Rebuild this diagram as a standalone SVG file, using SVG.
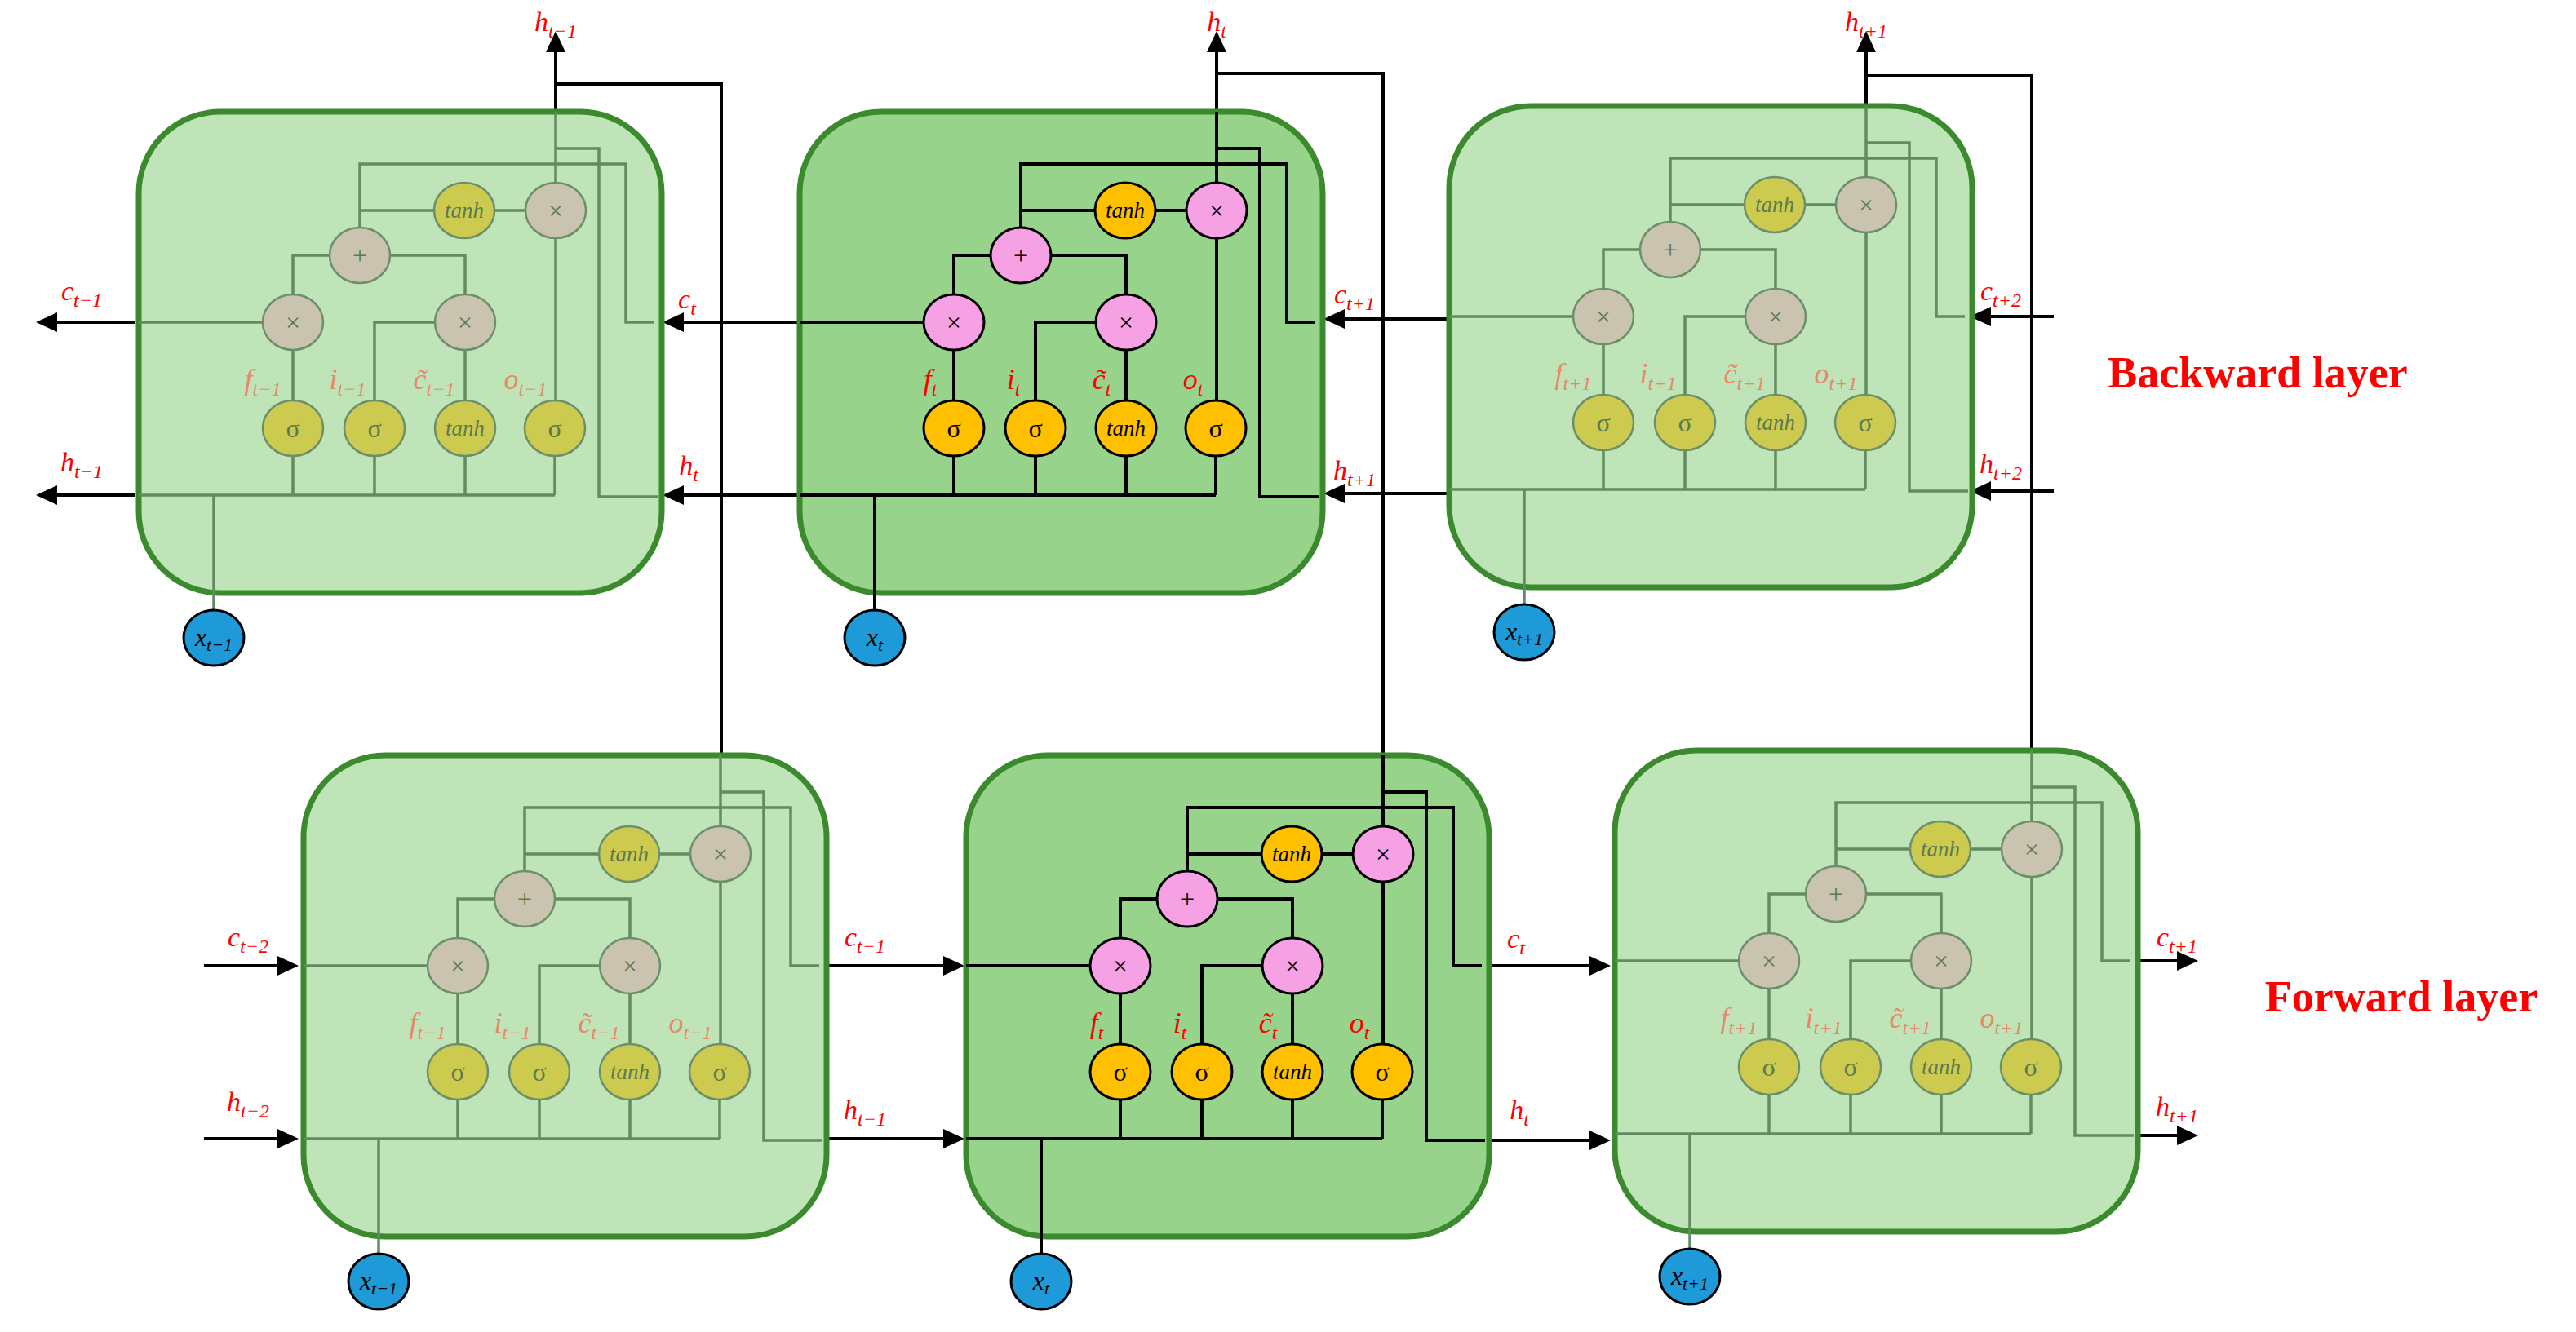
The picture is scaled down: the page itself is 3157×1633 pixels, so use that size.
<svg xmlns="http://www.w3.org/2000/svg" width="3157" height="1633" viewBox="0 0 3157 1633">
<style>
.box{stroke:#3b8b2e;stroke-width:7}
.a .box{fill:#98d38b}.f .box{fill:#bfe4b7}
.ln{fill:none;stroke-width:4}
.a .ln{stroke:#000}.f .ln{stroke:#618c61;stroke-width:3.5}
.a .op{fill:#f7a1e5;stroke:#000;stroke-width:3}.f .op{fill:#c9c3b0;stroke:#6b8e6b;stroke-width:2.5}
.a .gt{fill:#ffc000;stroke:#000;stroke-width:3}.f .gt{fill:#cccb4f;stroke:#6b8e6b;stroke-width:2.5}
.xn{fill:#1f9ad8;stroke:#000;stroke-width:3}
.sy{font-family:"Liberation Serif",serif;font-size:32px;text-anchor:middle;dominant-baseline:central}
.th{font-family:"Liberation Serif",serif;font-style:italic;font-size:27px;text-anchor:middle;dominant-baseline:central}
.a .sy,.a .th{fill:#000}.f .sy,.f .th{fill:#5c7a50}
.lb{font-family:"Liberation Serif",serif;font-style:italic;font-size:36px;text-anchor:middle}
.a .lb{fill:#ff0000}.f .lb{fill:#e9876b}
.xl{font-family:"Liberation Serif",serif;font-style:italic;font-size:32px;text-anchor:middle;fill:#000}
.ol{font-family:"Liberation Serif",serif;font-style:italic;font-size:34px;text-anchor:middle;fill:#ff0000}
.cn{fill:none;stroke:#000;stroke-width:4}
.ttl{font-family:"Liberation Serif",serif;font-weight:bold;font-size:54px;fill:#ff0000;text-anchor:middle}
</style>
<defs>
<marker id="ar" markerUnits="userSpaceOnUse" markerWidth="26" markerHeight="24" refX="22" refY="12" orient="auto"><path d="M0,0 L26,12 L0,24 z" fill="#000"/></marker>
</defs>

<g id="connectors">
<path class="cn" d="M681,137 V42" marker-end="url(#ar)"/>
<path class="cn" d="M681,103 H884 V926"/>
<path class="cn" d="M1491,137 V42" marker-end="url(#ar)"/>
<path class="cn" d="M1491,90 H1695 V926"/>
<path class="cn" d="M2287,130 V42" marker-end="url(#ar)"/>
<path class="cn" d="M2287,93 H2490 V920"/>
<path class="cn" d="M165,395 H48" marker-end="url(#ar)"/>
<path class="cn" d="M165,607 H48" marker-end="url(#ar)"/>
<path class="cn" d="M980,395 H816" marker-end="url(#ar)"/>
<path class="cn" d="M980,607 H816" marker-end="url(#ar)"/>
<path class="cn" d="M1776,391 H1626" marker-end="url(#ar)"/>
<path class="cn" d="M1776,605 H1626" marker-end="url(#ar)"/>
<path class="cn" d="M2517,388 H2418" marker-end="url(#ar)"/>
<path class="cn" d="M2517,602 H2418" marker-end="url(#ar)"/>
<path class="cn" d="M250,1184 H362" marker-end="url(#ar)"/>
<path class="cn" d="M250,1396 H362" marker-end="url(#ar)"/>
<path class="cn" d="M1013,1184 H1178" marker-end="url(#ar)"/>
<path class="cn" d="M1013,1396 H1178" marker-end="url(#ar)"/>
<path class="cn" d="M1822,1184 H1970" marker-end="url(#ar)"/>
<path class="cn" d="M1822,1398 H1970" marker-end="url(#ar)"/>
<path class="cn" d="M2618,1178 H2690" marker-end="url(#ar)"/>
<path class="cn" d="M2618,1392 H2690" marker-end="url(#ar)"/>
</g>

<g id="cell-bwd-tm1" class="f" transform="translate(170,137)">
<rect class="box" x="0" y="0" width="641" height="590" rx="100"/>
<path class="ln" d="M0,258H189 M189,388V176H400V388 M289,388V258H400 M271,176V64H597V258H632 M271,121H511 M511,0V388 M511,45H564V472H636 M0,470H510 M189,388V470 M289,388V470 M400,388V470 M510,388V470 M92,470V611"/>
<ellipse class="op" cx="189" cy="258" rx="37" ry="34"/><text class="sy" x="189" y="258">×</text>
<ellipse class="op" cx="400" cy="258" rx="37" ry="34"/><text class="sy" x="400" y="258">×</text>
<ellipse class="op" cx="271" cy="176" rx="37" ry="34"/><text class="sy" x="271" y="176">+</text>
<ellipse class="gt" cx="399" cy="121" rx="37" ry="34"/><text class="th" x="399" y="121">tanh</text>
<ellipse class="op" cx="511" cy="121" rx="37" ry="34"/><text class="sy" x="511" y="121">×</text>
<ellipse class="gt" cx="189" cy="388" rx="37" ry="34"/><text class="sy" x="189" y="388">σ</text>
<ellipse class="gt" cx="289" cy="388" rx="37" ry="34"/><text class="sy" x="289" y="388">σ</text>
<ellipse class="gt" cx="400" cy="388" rx="37" ry="34"/><text class="th" x="400" y="388">tanh</text>
<ellipse class="gt" cx="510" cy="388" rx="37" ry="34"/><text class="sy" x="510" y="388">σ</text>
<text class="lb" x="152" y="340">f<tspan font-size="24" dy="8">t−1</tspan></text>
<text class="lb" x="256" y="340">i<tspan font-size="24" dy="8">t−1</tspan></text>
<text class="lb" x="362" y="340">c̃<tspan font-size="24" dy="8">t−1</tspan></text>
<text class="lb" x="474" y="340">o<tspan font-size="24" dy="8">t−1</tspan></text>
<ellipse class="xn" cx="92" cy="645" rx="37" ry="34"/><text class="xl" x="92" y="655">x<tspan font-size="22" dy="6">t−1</tspan></text>
</g>

<g id="cell-bwd-t" class="a" transform="translate(980,137)">
<rect class="box" x="0" y="0" width="641" height="590" rx="100"/>
<path class="ln" d="M0,258H189 M189,388V176H400V388 M289,388V258H400 M271,176V64H597V258H632 M271,121H511 M511,0V388 M511,45H564V472H636 M0,470H510 M189,388V470 M289,388V470 M400,388V470 M510,388V470 M92,470V611"/>
<ellipse class="op" cx="189" cy="258" rx="37" ry="34"/><text class="sy" x="189" y="258">×</text>
<ellipse class="op" cx="400" cy="258" rx="37" ry="34"/><text class="sy" x="400" y="258">×</text>
<ellipse class="op" cx="271" cy="176" rx="37" ry="34"/><text class="sy" x="271" y="176">+</text>
<ellipse class="gt" cx="399" cy="121" rx="37" ry="34"/><text class="th" x="399" y="121">tanh</text>
<ellipse class="op" cx="511" cy="121" rx="37" ry="34"/><text class="sy" x="511" y="121">×</text>
<ellipse class="gt" cx="189" cy="388" rx="37" ry="34"/><text class="sy" x="189" y="388">σ</text>
<ellipse class="gt" cx="289" cy="388" rx="37" ry="34"/><text class="sy" x="289" y="388">σ</text>
<ellipse class="gt" cx="400" cy="388" rx="37" ry="34"/><text class="th" x="400" y="388">tanh</text>
<ellipse class="gt" cx="510" cy="388" rx="37" ry="34"/><text class="sy" x="510" y="388">σ</text>
<text class="lb" x="160" y="340">f<tspan font-size="24" dy="8">t</tspan></text>
<text class="lb" x="262" y="340">i<tspan font-size="24" dy="8">t</tspan></text>
<text class="lb" x="370" y="340">c̃<tspan font-size="24" dy="8">t</tspan></text>
<text class="lb" x="482" y="340">o<tspan font-size="24" dy="8">t</tspan></text>
<ellipse class="xn" cx="92" cy="645" rx="37" ry="34"/><text class="xl" x="92" y="655">x<tspan font-size="22" dy="6">t</tspan></text>
</g>

<g id="cell-bwd-tp1" class="f" transform="translate(1776,130)">
<rect class="box" x="0" y="0" width="641" height="590" rx="100"/>
<path class="ln" d="M0,258H189 M189,388V176H400V388 M289,388V258H400 M271,176V64H597V258H632 M271,121H511 M511,0V388 M511,45H564V472H636 M0,470H510 M189,388V470 M289,388V470 M400,388V470 M510,388V470 M92,470V611"/>
<ellipse class="op" cx="189" cy="258" rx="37" ry="34"/><text class="sy" x="189" y="258">×</text>
<ellipse class="op" cx="400" cy="258" rx="37" ry="34"/><text class="sy" x="400" y="258">×</text>
<ellipse class="op" cx="271" cy="176" rx="37" ry="34"/><text class="sy" x="271" y="176">+</text>
<ellipse class="gt" cx="399" cy="121" rx="37" ry="34"/><text class="th" x="399" y="121">tanh</text>
<ellipse class="op" cx="511" cy="121" rx="37" ry="34"/><text class="sy" x="511" y="121">×</text>
<ellipse class="gt" cx="189" cy="388" rx="37" ry="34"/><text class="sy" x="189" y="388">σ</text>
<ellipse class="gt" cx="289" cy="388" rx="37" ry="34"/><text class="sy" x="289" y="388">σ</text>
<ellipse class="gt" cx="400" cy="388" rx="37" ry="34"/><text class="th" x="400" y="388">tanh</text>
<ellipse class="gt" cx="510" cy="388" rx="37" ry="34"/><text class="sy" x="510" y="388">σ</text>
<text class="lb" x="152" y="340">f<tspan font-size="24" dy="8">t+1</tspan></text>
<text class="lb" x="256" y="340">i<tspan font-size="24" dy="8">t+1</tspan></text>
<text class="lb" x="362" y="340">c̃<tspan font-size="24" dy="8">t+1</tspan></text>
<text class="lb" x="474" y="340">o<tspan font-size="24" dy="8">t+1</tspan></text>
<ellipse class="xn" cx="92" cy="645" rx="37" ry="34"/><text class="xl" x="92" y="655">x<tspan font-size="22" dy="6">t+1</tspan></text>
</g>

<g id="cell-fwd-tm1" class="f" transform="translate(372,926)">
<rect class="box" x="0" y="0" width="641" height="590" rx="100"/>
<path class="ln" d="M0,258H189 M189,388V176H400V388 M289,388V258H400 M271,176V64H597V258H632 M271,121H511 M511,0V388 M511,45H564V472H636 M0,470H510 M189,388V470 M289,388V470 M400,388V470 M510,388V470 M92,470V611"/>
<ellipse class="op" cx="189" cy="258" rx="37" ry="34"/><text class="sy" x="189" y="258">×</text>
<ellipse class="op" cx="400" cy="258" rx="37" ry="34"/><text class="sy" x="400" y="258">×</text>
<ellipse class="op" cx="271" cy="176" rx="37" ry="34"/><text class="sy" x="271" y="176">+</text>
<ellipse class="gt" cx="399" cy="121" rx="37" ry="34"/><text class="th" x="399" y="121">tanh</text>
<ellipse class="op" cx="511" cy="121" rx="37" ry="34"/><text class="sy" x="511" y="121">×</text>
<ellipse class="gt" cx="189" cy="388" rx="37" ry="34"/><text class="sy" x="189" y="388">σ</text>
<ellipse class="gt" cx="289" cy="388" rx="37" ry="34"/><text class="sy" x="289" y="388">σ</text>
<ellipse class="gt" cx="400" cy="388" rx="37" ry="34"/><text class="th" x="400" y="388">tanh</text>
<ellipse class="gt" cx="510" cy="388" rx="37" ry="34"/><text class="sy" x="510" y="388">σ</text>
<text class="lb" x="152" y="340">f<tspan font-size="24" dy="8">t−1</tspan></text>
<text class="lb" x="256" y="340">i<tspan font-size="24" dy="8">t−1</tspan></text>
<text class="lb" x="362" y="340">c̃<tspan font-size="24" dy="8">t−1</tspan></text>
<text class="lb" x="474" y="340">o<tspan font-size="24" dy="8">t−1</tspan></text>
<ellipse class="xn" cx="92" cy="645" rx="37" ry="34"/><text class="xl" x="92" y="655">x<tspan font-size="22" dy="6">t−1</tspan></text>
</g>

<g id="cell-fwd-t" class="a" transform="translate(1184,926)">
<rect class="box" x="0" y="0" width="641" height="590" rx="100"/>
<path class="ln" d="M0,258H189 M189,388V176H400V388 M289,388V258H400 M271,176V64H597V258H632 M271,121H511 M511,0V388 M511,45H564V472H636 M0,470H510 M189,388V470 M289,388V470 M400,388V470 M510,388V470 M92,470V611"/>
<ellipse class="op" cx="189" cy="258" rx="37" ry="34"/><text class="sy" x="189" y="258">×</text>
<ellipse class="op" cx="400" cy="258" rx="37" ry="34"/><text class="sy" x="400" y="258">×</text>
<ellipse class="op" cx="271" cy="176" rx="37" ry="34"/><text class="sy" x="271" y="176">+</text>
<ellipse class="gt" cx="399" cy="121" rx="37" ry="34"/><text class="th" x="399" y="121">tanh</text>
<ellipse class="op" cx="511" cy="121" rx="37" ry="34"/><text class="sy" x="511" y="121">×</text>
<ellipse class="gt" cx="189" cy="388" rx="37" ry="34"/><text class="sy" x="189" y="388">σ</text>
<ellipse class="gt" cx="289" cy="388" rx="37" ry="34"/><text class="sy" x="289" y="388">σ</text>
<ellipse class="gt" cx="400" cy="388" rx="37" ry="34"/><text class="th" x="400" y="388">tanh</text>
<ellipse class="gt" cx="510" cy="388" rx="37" ry="34"/><text class="sy" x="510" y="388">σ</text>
<text class="lb" x="160" y="340">f<tspan font-size="24" dy="8">t</tspan></text>
<text class="lb" x="262" y="340">i<tspan font-size="24" dy="8">t</tspan></text>
<text class="lb" x="370" y="340">c̃<tspan font-size="24" dy="8">t</tspan></text>
<text class="lb" x="482" y="340">o<tspan font-size="24" dy="8">t</tspan></text>
<ellipse class="xn" cx="92" cy="645" rx="37" ry="34"/><text class="xl" x="92" y="655">x<tspan font-size="22" dy="6">t</tspan></text>
</g>

<g id="cell-fwd-tp1" class="f" transform="translate(1979,920)">
<rect class="box" x="0" y="0" width="641" height="590" rx="100"/>
<path class="ln" d="M0,258H189 M189,388V176H400V388 M289,388V258H400 M271,176V64H597V258H632 M271,121H511 M511,0V388 M511,45H564V472H636 M0,470H510 M189,388V470 M289,388V470 M400,388V470 M510,388V470 M92,470V611"/>
<ellipse class="op" cx="189" cy="258" rx="37" ry="34"/><text class="sy" x="189" y="258">×</text>
<ellipse class="op" cx="400" cy="258" rx="37" ry="34"/><text class="sy" x="400" y="258">×</text>
<ellipse class="op" cx="271" cy="176" rx="37" ry="34"/><text class="sy" x="271" y="176">+</text>
<ellipse class="gt" cx="399" cy="121" rx="37" ry="34"/><text class="th" x="399" y="121">tanh</text>
<ellipse class="op" cx="511" cy="121" rx="37" ry="34"/><text class="sy" x="511" y="121">×</text>
<ellipse class="gt" cx="189" cy="388" rx="37" ry="34"/><text class="sy" x="189" y="388">σ</text>
<ellipse class="gt" cx="289" cy="388" rx="37" ry="34"/><text class="sy" x="289" y="388">σ</text>
<ellipse class="gt" cx="400" cy="388" rx="37" ry="34"/><text class="th" x="400" y="388">tanh</text>
<ellipse class="gt" cx="510" cy="388" rx="37" ry="34"/><text class="sy" x="510" y="388">σ</text>
<text class="lb" x="152" y="340">f<tspan font-size="24" dy="8">t+1</tspan></text>
<text class="lb" x="256" y="340">i<tspan font-size="24" dy="8">t+1</tspan></text>
<text class="lb" x="362" y="340">c̃<tspan font-size="24" dy="8">t+1</tspan></text>
<text class="lb" x="474" y="340">o<tspan font-size="24" dy="8">t+1</tspan></text>
<ellipse class="xn" cx="92" cy="645" rx="37" ry="34"/><text class="xl" x="92" y="655">x<tspan font-size="22" dy="6">t+1</tspan></text>
</g>

<g id="labels">
<text class="ol" x="681" y="38">h<tspan font-size="24" dy="8">t−1</tspan></text>
<text class="ol" x="1491" y="38">h<tspan font-size="24" dy="8">t</tspan></text>
<text class="ol" x="2287" y="38">h<tspan font-size="24" dy="8">t+1</tspan></text>
<text class="ol" x="100" y="368">c<tspan font-size="24" dy="8">t−1</tspan></text>
<text class="ol" x="100" y="578">h<tspan font-size="24" dy="8">t−1</tspan></text>
<text class="ol" x="842" y="378">c<tspan font-size="24" dy="8">t</tspan></text>
<text class="ol" x="844" y="582">h<tspan font-size="24" dy="8">t</tspan></text>
<text class="ol" x="1660" y="372">c<tspan font-size="24" dy="8">t+1</tspan></text>
<text class="ol" x="1660" y="588">h<tspan font-size="24" dy="8">t+1</tspan></text>
<text class="ol" x="2452" y="368">c<tspan font-size="24" dy="8">t+2</tspan></text>
<text class="ol" x="2452" y="580">h<tspan font-size="24" dy="8">t+2</tspan></text>
<text class="ol" x="304" y="1160">c<tspan font-size="24" dy="8">t−2</tspan></text>
<text class="ol" x="304" y="1362">h<tspan font-size="24" dy="8">t−2</tspan></text>
<text class="ol" x="1060" y="1160">c<tspan font-size="24" dy="8">t−1</tspan></text>
<text class="ol" x="1060" y="1372">h<tspan font-size="24" dy="8">t−1</tspan></text>
<text class="ol" x="1858" y="1162">c<tspan font-size="24" dy="8">t</tspan></text>
<text class="ol" x="1862" y="1372">h<tspan font-size="24" dy="8">t</tspan></text>
<text class="ol" x="2668" y="1160">c<tspan font-size="24" dy="8">t+1</tspan></text>
<text class="ol" x="2668" y="1368">h<tspan font-size="24" dy="8">t+1</tspan></text>
<text class="ttl" x="2767" y="475">Backward layer</text>
<text class="ttl" x="2943" y="1240">Forward layer</text>
</g>
</svg>
